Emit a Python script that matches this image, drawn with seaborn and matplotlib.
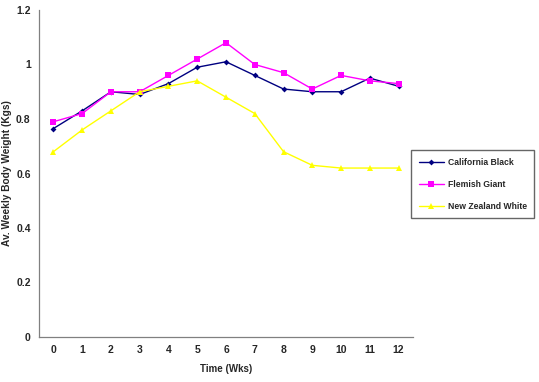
import matplotlib
matplotlib.use("Agg")
import matplotlib.pyplot as plt
from matplotlib.ticker import FixedLocator, NullFormatter
import seaborn as sns
import pandas as pd

weeks = list(range(13))
california_black = [0.765, 0.83, 0.90, 0.89, 0.93, 0.99, 1.01, 0.96, 0.91, 0.90, 0.90, 0.95, 0.92]
flemish_giant = [0.79, 0.82, 0.90, 0.90, 0.96, 1.02, 1.08, 1.00, 0.97, 0.91, 0.96, 0.94, 0.93]
new_zealand_white = [0.68, 0.76, 0.83, 0.90, 0.92, 0.94, 0.88, 0.82, 0.68, 0.63, 0.62, 0.62, 0.62]
series_names = ["California Black", "Flemish Giant", "New Zealand White"]
y_ticks = [0, 0.2, 0.4, 0.6, 0.8, 1, 1.2]
y_tick_labels = ["0", "0.2", "0.4", "0.6", "0.8", "1", "1.2"]

rows = []
for name, vals in zip(series_names, [california_black, flemish_giant, new_zealand_white]):
    for w, v in zip(weeks, vals):
        rows.append({"Week": w, "Weight": v, "Breed": name})
df = pd.DataFrame(rows)

sns.set_style("white")
plt.rcParams["font.family"] = ["Liberation Sans", "DejaVu Sans"]
plt.rcParams["font.weight"] = "bold"

fig = plt.figure(figsize=(5.39, 3.82), dpi=100)
ax = fig.add_axes([39/539, 1-337/382, (413-39)/539, (337-10)/382])

palette = {"California Black": "#000080", "Flemish Giant": "#FF00FF", "New Zealand White": "#FFFF00"}
markers = {"California Black": "D", "Flemish Giant": "s", "New Zealand White": "^"}
sizes = {"California Black": 3, "Flemish Giant": 4, "New Zealand White": 4}
for name in series_names:
    sub = df[df["Breed"] == name]
    sns.lineplot(data=sub, x="Week", y="Weight", ax=ax, color=palette[name],
                 marker=markers[name], markersize=sizes[name], markeredgewidth=0,
                 linewidth=1.0, label=name)

ax.set_xlim(-0.5, 12.5)
ax.set_ylim(0, 1.2)
ax.set_yticks(y_ticks)
ax.set_yticklabels(y_tick_labels)
ax.set_xticks(weeks)
ax.set_xticklabels([str(w) for w in weeks])
ax.xaxis.set_minor_locator(FixedLocator([i - 0.5 for i in range(14)]))
ax.xaxis.set_minor_formatter(NullFormatter())
ax.tick_params(axis="x", which="major", length=0, pad=6, labelsize=7.5)
ax.tick_params(axis="x", which="minor", length=3, width=0.8, color="#808080", direction="out")
ax.tick_params(axis="y", which="major", length=3, width=0.8, color="#808080", direction="out", pad=3, labelsize=7.5)
for t in ax.get_xticklabels() + ax.get_yticklabels():
    t.set_fontweight("bold")

sns.despine(ax=ax)
for s in ["left", "bottom"]:
    ax.spines[s].set_color("#808080")
    ax.spines[s].set_linewidth(0.9)

ax.set_xlabel("Time (Wks)", fontsize=7, fontweight="bold", labelpad=6)
ax.set_ylabel("Av. Weekly Body Weight (Kgs)", fontsize=7.3, fontweight="bold")
ax.yaxis.set_label_coords(-0.071, 0.5)

leg = ax.legend(loc="upper left", bbox_to_anchor=(411/539, 1-150/382), bbox_transform=fig.transFigure,
                frameon=True, fancybox=False, prop={"weight": "bold", "size": 6.2},
                handlelength=2.9, borderpad=0.9, labelspacing=1.5, handletextpad=0.45,
                borderaxespad=0)
leg.get_frame().set_edgecolor("#404040")
leg.get_frame().set_linewidth(1.0)

fig.savefig("out.png", dpi=100)
